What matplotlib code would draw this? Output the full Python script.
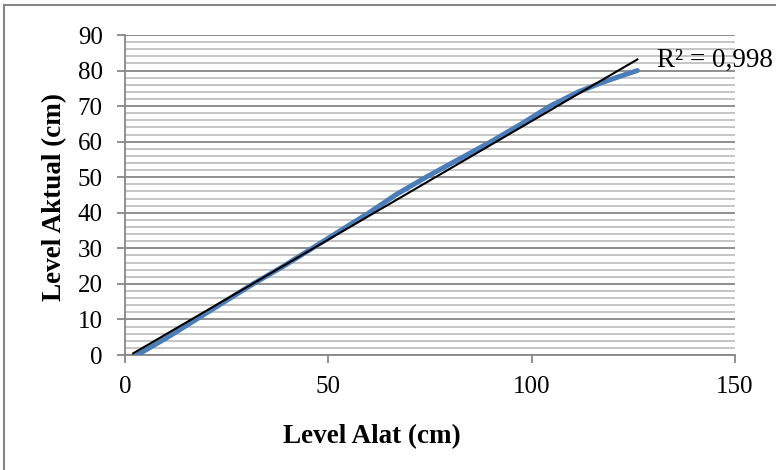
import numpy as np
import matplotlib
matplotlib.use("Agg")
import matplotlib.pyplot as plt
from matplotlib.ticker import MultipleLocator
from matplotlib.lines import Line2D

# data
level_alat = [3, 10.5, 17.5, 24.5, 31.5, 39, 46, 53, 60, 66.5, 74, 82, 90, 97.5, 104.5, 111.5, 117, 122, 126]
level_aktual = [0, 5, 10, 15, 20, 25, 30, 35, 40, 45, 50, 55, 60, 65, 70, 74, 76.5, 78.5, 80]
r2_text = "R² = 0,998"

plt.rcParams['font.family'] = ['Liberation Serif', 'DejaVu Serif']

fig = plt.figure(figsize=(7.76, 4.70), dpi=100)
ax = fig.add_axes([125/776, 1-355/470, 610/776, 320/470])

x = np.array(level_alat)
y = np.array(level_aktual)
coef = np.polyfit(x, y, 1)
xt = np.array([x.min() - 1, x.max()])

ax.plot(x, y, color='#4a7ebb', lw=3.6, solid_capstyle='round', zorder=3)
ax.plot(xt, np.polyval(coef, xt), color='black', lw=1.5, zorder=4)

ax.set_xlim(0, 150)
ax.set_ylim(0, 90)
ax.xaxis.set_major_locator(MultipleLocator(50))
ax.yaxis.set_major_locator(MultipleLocator(10))
ax.yaxis.set_minor_locator(MultipleLocator(2))
ax.grid(axis='y', which='major', color='#878787', lw=1.3)
ax.grid(axis='y', which='minor', color='#c0c0c0', lw=1.3)
ax.set_axisbelow(True)
for s in ['top', 'right']:
    ax.spines[s].set_visible(False)
for s in ['left', 'bottom']:
    ax.spines[s].set_color('#878787')
    ax.spines[s].set_linewidth(1.3)
ax.tick_params(which='major', length=6, width=1.3, color='#878787', labelsize=18)
ax.tick_params(axis='y', pad=10)
ax.tick_params(axis='x', pad=9)
ax.tick_params(which='minor', length=0)

fig.text(372/776, 1-437/470, 'Level Alat (cm)', fontsize=19.5, fontweight='bold', ha='center', va='center')
fig.text(55/776, 1-197/470, 'Level Aktual (cm)', fontsize=19.5, fontweight='bold', ha='center', va='center', rotation=90)
fig.text(657/776, 1-60/470, r2_text, fontsize=19.5, ha='left', va='center')

fig.add_artist(Line2D([4/776, 4/776], [0, 1-5/470], color='#878787', lw=1.5))
fig.add_artist(Line2D([4/776, 1], [1-5/470, 1-5/470], color='#878787', lw=1.5))

fig.savefig('out.png', dpi=100)
